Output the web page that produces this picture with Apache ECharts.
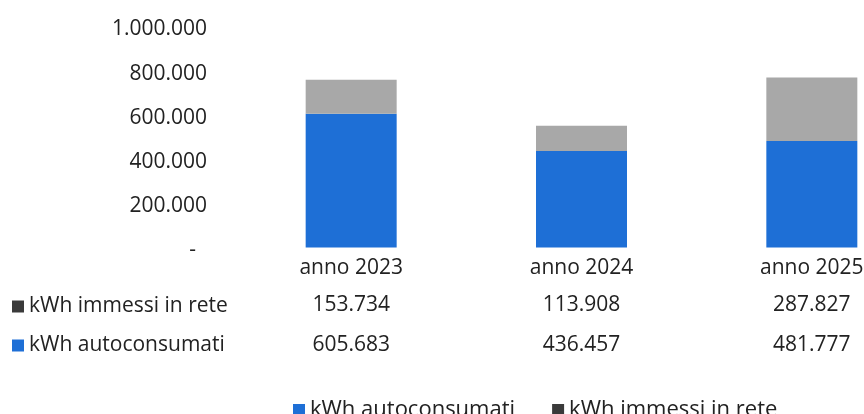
<!DOCTYPE html>
<html>
<head>
<meta charset="utf-8">
<script src="https://cdn.jsdelivr.net/npm/echarts@6/dist/echarts.min.js"></script>
<style>
html,body{margin:0;padding:0;background:#fff;overflow:hidden;width:864px;height:414px;}
#c{width:940px;height:414px;}
</style>
</head>
<body>
<div id="c"></div>
<script>
var categories = ['anno 2023', 'anno 2024', 'anno 2025'];
var autoconsumati = [605683, 436457, 481777];
var immessi = [153734, 113908, 287827];
var seriesNames = ['kWh autoconsumati', 'kWh immessi in rete'];

function fmt(v) {
  return String(Math.round(v)).replace(/\B(?=(\d{3})+(?!\d))/g, '.');
}

var FONT = 'Open Sans';
var TXT = '#222';
var BLUE = '#1e6fd6';
var GREY = '#a8a8a8';
var DARK = '#3a3a3a';

var chart = echarts.init(document.getElementById('c'));
var baseX = {
  type: 'category',
  gridIndex: 0,
  position: 'bottom',
  axisLine: {show: false},
  axisTick: {show: false},
  splitLine: {show: false},
  axisLabel: {color: TXT, fontFamily: FONT, fontSize: 21, margin: 10, interval: 0}
};
var legendText = {color: TXT, fontFamily: FONT, fontSize: 21};
chart.setOption({
  animation: false,
  textStyle: {fontFamily: FONT},
  grid: {left: 236, top: 26.5, width: 691, height: 221, containLabel: false},
  legend: [
    {
      data: [{name: seriesNames[1], itemStyle: {color: DARK}}],
      left: 12, top: 296, padding: 0, itemWidth: 12, itemHeight: 12,
      selectedMode: false, icon: 'rect', textStyle: legendText
    },
    {
      data: [seriesNames[0]],
      left: 12, top: 335, padding: 0, itemWidth: 12, itemHeight: 12,
      selectedMode: false, icon: 'rect', textStyle: legendText
    },
    {
      data: [seriesNames[0], {name: seriesNames[1], itemStyle: {color: DARK}}],
      left: 293, top: 399, padding: 0, itemWidth: 12, itemHeight: 12, itemGap: 37,
      selectedMode: false, icon: 'rect',
      textStyle: {color: TXT, fontFamily: FONT, fontSize: 22}
    }
  ],
  xAxis: [
    Object.assign({}, baseX, {data: categories}),
    Object.assign({}, baseX, {data: immessi.map(fmt), offset: 37}),
    Object.assign({}, baseX, {data: autoconsumati.map(fmt), offset: 77})
  ],
  yAxis: {
    type: 'value',
    min: 0, max: 1000000, interval: 200000,
    axisLine: {show: false},
    axisTick: {show: false},
    splitLine: {show: false},
    axisLabel: {
      color: TXT, fontFamily: FONT, fontSize: 21, margin: 29, padding: [6, 0, 0, 0],
      formatter: function (v) { return v === 0 ? '{d|-}' : fmt(v); },
      rich: {d: {fontFamily: FONT, fontSize: 21, color: TXT, padding: [0, 11, 0, 0]}}
    }
  },
  series: [
    {
      name: seriesNames[0], type: 'bar', stack: 't', xAxisIndex: 0,
      data: autoconsumati, barWidth: 91, itemStyle: {color: BLUE}
    },
    {
      name: seriesNames[1], type: 'bar', stack: 't', xAxisIndex: 0,
      data: immessi, barWidth: 91, itemStyle: {color: GREY}
    }
  ]
});
</script>
</body>
</html>
